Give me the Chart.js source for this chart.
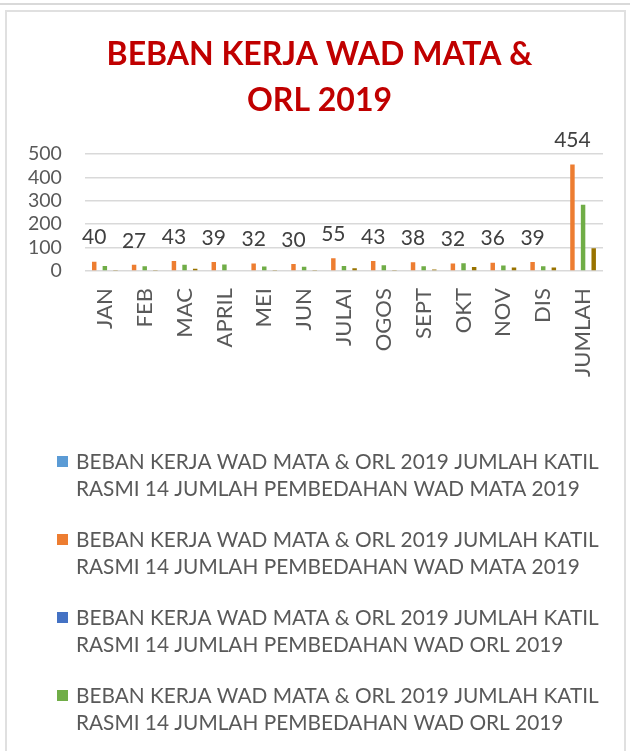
<!DOCTYPE html>
<html>
<head>
<meta charset="utf-8">
<script src="https://cdn.jsdelivr.net/npm/chart.js@4/dist/chart.umd.min.js"></script>
<style>
    html, body { margin: 0; padding: 0; background: #fff; }
    body { width: 630px; height: 751px; position: relative; overflow: hidden; }
    #prev { position: absolute; left: 0; top: 0; width: 630px; height: 3px; border-bottom: 2px solid #d9d9d9; }
    #frame { position: absolute; left: 5px; top: 10px; width: 621px; height: 745px; border: 2px solid #e0e0e0; box-sizing: border-box; }
    #chart { position: absolute; left: 0; top: 0; }
</style>
</head>
<body>
<div id="prev"></div>
<div id="frame"></div>
<canvas id="chart" width="630" height="751"></canvas>
<script>
const categories = ['JAN', 'FEB', 'MAC', 'APRIL', 'MEI', 'JUN', 'JULAI', 'OGOS', 'SEPT', 'OKT', 'NOV', 'DIS', 'JUMLAH'];

const seriesNames = [
    'BEBAN KERJA WAD MATA & ORL 2019 JUMLAH KATIL RASMI 14 JUMLAH PEMBEDAHAN WAD MATA 2019',
    'BEBAN KERJA WAD MATA & ORL 2019 JUMLAH KATIL RASMI 14 JUMLAH PEMBEDAHAN WAD MATA 2019',
    'BEBAN KERJA WAD MATA & ORL 2019 JUMLAH KATIL RASMI 14 JUMLAH PEMBEDAHAN WAD ORL 2019',
    'BEBAN KERJA WAD MATA & ORL 2019 JUMLAH KATIL RASMI 14 JUMLAH PEMBEDAHAN WAD ORL 2019'
];

// series with no visible bars in the picture
const mataBlank = [null, null, null, null, null, null, null, null, null, null, null, null, null];
const orlBlank = [null, null, null, null, null, null, null, null, null, null, null, null, null];
// visible series
const mataValues = [40, 27, 43, 39, 32, 30, 55, 43, 38, 32, 36, 39, 454];
const orlValues = [22, 21, 27, 28, 20, 19, 22, 25, 21, 33, 24, 21, 283];
const extraValues = [5, 3, 10, 4, 3, 3, 12, 3, 7, 17, 15, 15, 97];

const yTicks = [0, 100, 200, 300, 400, 500];

const FONT = 'Lato';
const TEXT = '#595959';

// value labels above the orange bars
const valueLabels = {
    id: 'valueLabels',
    afterDatasetsDraw(chart) {
        const ctx = chart.ctx;
        const meta = chart.getDatasetMeta(1);
        ctx.save();
        ctx.font = '21px ' + FONT;
        ctx.fillStyle = '#404040';
        ctx.textAlign = 'center';
        ctx.textBaseline = 'middle';
        meta.data.forEach((bar, i) => {
            ctx.fillText(String(mataValues[i]), bar.x, bar.y - 24);
        });
        ctx.restore();
    }
};

// title sits centred on the whole frame, not on the padded box
const titleShift = {
    id: 'titleShift',
    afterLayout(chart) {
        if (chart.titleBlock) chart.titleBlock.left += 31;
    }
};

// legend drawn under the axis, wrapping long names onto two lines
const wrapLegend = {
    id: 'wrapLegend',
    afterDraw(chart) {
        const ctx = chart.ctx;
        const boxX = 57, textX = 76, maxW = 540;
        let y = chart.height - 289;
        ctx.save();
        ctx.font = '20.8px ' + FONT;
        ctx.textBaseline = 'middle';
        ctx.textAlign = 'left';
        chart.data.datasets.forEach(ds => {
            if (ds.legendHidden) return;
            const words = ds.label.split(' ');
            const lines = [];
            let cur = '';
            words.forEach(w => {
                const test = cur ? cur + ' ' + w : w;
                if (ctx.measureText(test).width > maxW && cur) {
                    lines.push(cur);
                    cur = w;
                } else {
                    cur = test;
                }
            });
            lines.push(cur);
            ctx.fillStyle = ds.backgroundColor;
            ctx.fillRect(boxX, y - 6, 11, 11);
            ctx.fillStyle = TEXT;
            lines.forEach((ln, k) => ctx.fillText(ln, textX, y + k * 27));
            y += 78;
        });
        ctx.restore();
    }
};

const ctx = document.getElementById('chart').getContext('2d');

new Chart(ctx, {
    type: 'bar',
    data: {
        labels: categories,
        datasets: [
            { label: seriesNames[0], data: mataBlank, backgroundColor: '#5B9BD5' },
            { label: seriesNames[1], data: mataValues, backgroundColor: '#ED7D31' },
            { label: seriesNames[2], data: orlBlank, backgroundColor: '#4472C4' },
            { label: seriesNames[3], data: orlValues, backgroundColor: '#70AD47' },
            { label: 'extra', data: extraValues, backgroundColor: '#997300', legendHidden: true }
        ]
    },
    options: {
        responsive: false,
        animation: false,
        skipNull: true,
        categoryPercentage: 0.8,
        barPercentage: 0.42,
        layout: {
            padding: { left: 5, right: 27, top: 0, bottom: 357 }
        },
        plugins: {
            legend: { display: false },
            tooltip: { enabled: false },
            title: {
                display: true,
                text: ['BEBAN KERJA WAD MATA &', 'ORL 2019'],
                color: '#C00000',
                font: { family: FONT, size: 32, weight: 'bold', lineHeight: 1.45 },
                padding: { top: 31, bottom: 30 }
            }
        },
        scales: {
            x: {
                grid: { display: false, drawTicks: false },
                border: { display: false },
                ticks: {
                    color: TEXT,
                    font: { family: FONT, size: 22 },
                    maxRotation: 90,
                    minRotation: 90,
                    padding: 17,
                    autoSkip: false
                }
            },
            y: {
                min: 0,
                max: 500,
                afterBuildTicks(axis) {
                    axis.ticks = yTicks.map(v => ({ value: v }));
                },
                grid: { color: '#d9d9d9', lineWidth: 1.5, drawTicks: false },
                border: { display: false },
                ticks: {
                    color: TEXT,
                    font: { family: FONT, size: 19.5 },
                    padding: 23,
                    autoSkip: false
                }
            }
        }
    },
    plugins: [valueLabels, titleShift, wrapLegend]
});
</script>
</body>
</html>
